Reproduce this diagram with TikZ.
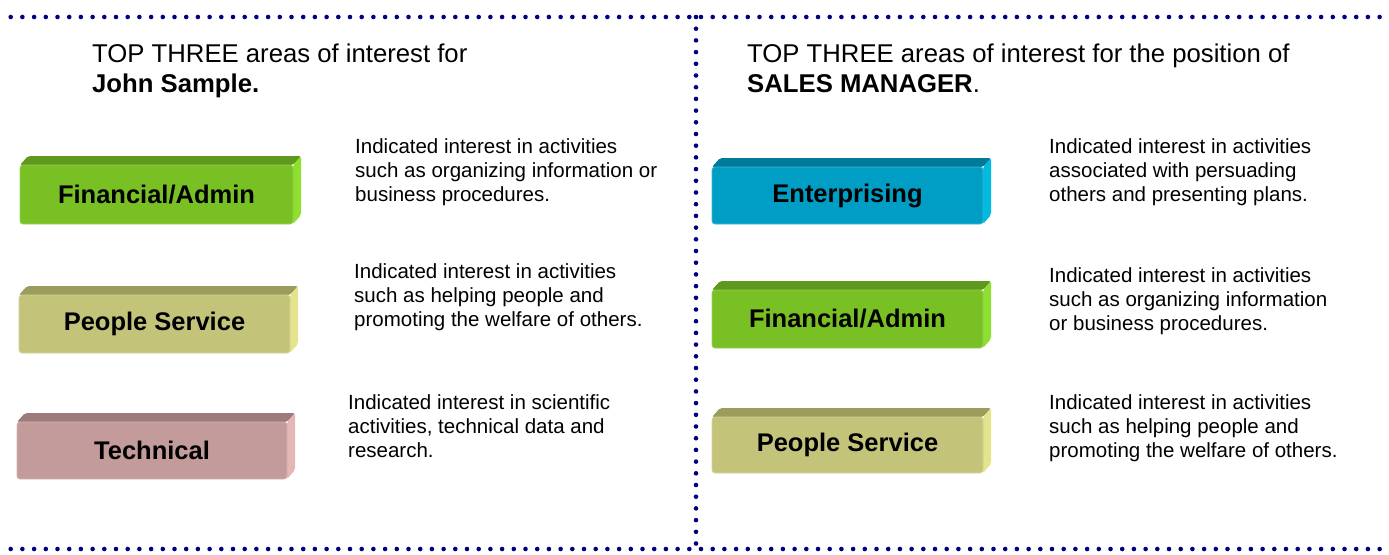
\documentclass[tikz,border=0pt]{standalone}
\usepackage{fontspec}
\setmainfont{Liberation Sans}
\definecolor{dotnavy}{RGB}{0,0,128}
\definecolor{greenfront}{RGB}{120,192,36}
\definecolor{greentop}{RGB}{94,152,28}
\definecolor{greenside}{RGB}{142,224,48}
\definecolor{bluefront}{RGB}{0,158,196}
\definecolor{bluetop}{RGB}{0,122,153}
\definecolor{blueside}{RGB}{0,186,226}
\definecolor{rosefront}{RGB}{196,155,155}
\definecolor{rosetop}{RGB}{158,123,123}
\definecolor{roseside}{RGB}{228,182,182}
\definecolor{olivefront}{RGB}{196,195,122}
\definecolor{olivetop}{RGB}{156,156,92}
\definecolor{oliveside}{RGB}{228,228,140}
\tikzset{
  dotline/.style={dotnavy, line width=4.6pt, line cap=round, dash pattern=on 0pt off 11.7pt},
  % multi-line nodes: the base anchor sits on the last line
  heading/.style={anchor=base west, inner sep=0pt, align=left, font=\fontsize{25.7}{30}\selectfont},
  desc/.style={anchor=base west, inner sep=0pt, align=left, font=\fontsize{20.5}{24}\selectfont},
  areaface/.style={rounded corners=3pt, inner sep=0pt, font=\bfseries\fontsize{25.5}{30}\selectfont}
}
% 3-D bar: #1 name, #2..#5 front face corners (x1,y1,x2,y2), #6 colour family, #7 label
\newcommand{\areabar}[7]{%
  \fill[#6top, rounded corners=2pt] (#2,#3) -- (#2+8,#3-9) -- (#4+8,#3-9) -- (#4,#3) -- cycle;
  \fill[#6side, rounded corners=2pt] (#4,#3) -- (#4+8,#3-9) -- (#4+8,#5-9) -- (#4,#5) -- cycle;
  \node[areaface, fill=#6front, draw=#6front!75!white, line width=0.8pt,
        minimum width=#4pt-#2pt, minimum height=#5pt-#3pt] (#1)
        at ({(#2+#4)/2},{(#3+#5)/2}) {#7};
}
\begin{document}
\begin{tikzpicture}[x=1pt, y=-1pt]
\useasboundingbox (0,0) rectangle (1389,554);

% dotted frame
\coordinate (tl) at (10.7,17);
\coordinate (tr) at (1384,17);
\coordinate (bl) at (10.7,549);
\coordinate (br) at (1384,549);
\coordinate (mt) at (696,17);
\coordinate (mb) at (696,549);
\draw[dotline] (tl) -- (tr);
\draw[dotline] (bl) -- (br);
\draw[dotline] (mt) -- (mb);

% headings (y = baseline of the second line)
\node[heading] (headL) at (92,92) {TOP THREE areas of interest for\\\textbf{John Sample.}};
\node[heading] (headR) at (747,92) {TOP THREE areas of interest for the position of\\\textbf{SALES MANAGER}.};

% left column
\areabar{candA}{20}{165}{293}{224}{green}{Financial/Admin}
\areabar{candB}{19}{295}{290}{353}{olive}{People Service}
\areabar{candC}{17}{422}{287}{479}{rose}{Technical}

% descriptions (y = baseline of the third line)
\node[desc] (descA) at (355,201.5) {Indicated interest in activities\\such as organizing information or\\business procedures.};
\node[desc] (descB) at (354,326) {Indicated interest in activities\\such as helping people and\\promoting the welfare of others.};
\node[desc] (descC) at (348,457) {Indicated interest in scientific\\activities, technical data and\\research.};

% right column
\areabar{posA}{712}{167}{983}{224}{blue}{Enterprising}
\areabar{posB}{712}{290}{983}{348}{green}{Financial/Admin}
\areabar{posC}{712}{417}{983}{473}{olive}{People Service}

\node[desc] (descD) at (1049,201) {Indicated interest in activities\\associated with persuading\\others and presenting plans.};
\node[desc] (descE) at (1049,330) {Indicated interest in activities\\such as organizing information\\or business procedures.};
\node[desc] (descF) at (1049,457) {Indicated interest in activities\\such as helping people and\\promoting the welfare of others.};
\end{tikzpicture}
\end{document}
